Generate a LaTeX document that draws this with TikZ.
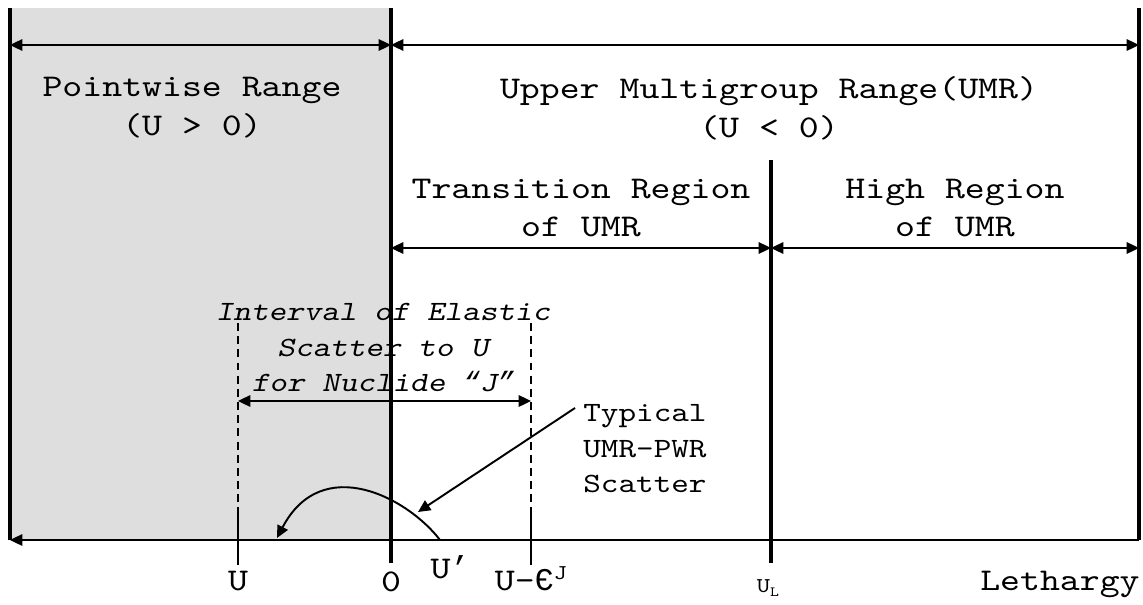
\documentclass[tikz,border=0pt]{standalone}
\usepackage{fontspec}
\setmainfont{lmmono10-regular.otf}[ItalicFont=lmmonoslant10-regular.otf, FakeStretch=1.2]
\newfontfamily\epsfont{Liberation Mono}
\usetikzlibrary{arrows.meta}
\definecolor{pwgray}{HTML}{DEDEDE}
\tikzset{
  bigtxt/.style={font=\fontsize{18}{22.1}\selectfont, align=center, inner sep=0pt},
  smtxt/.style={font=\fontsize{15.9}{20.2}\selectfont, inner sep=0pt},
  ittxt/.style={font=\fontsize{15.9}{20.2}\selectfont\itshape, align=center, inner sep=0pt},
  wall/.style={line width=2.6pt},
  dimarr/.style={{Triangle[length=7pt,width=6.5pt]}-{Triangle[length=7pt,width=6.5pt]},
                 line width=1.1pt},
  ptr/.style={-{Triangle[length=7pt,width=6.5pt]}, line width=1.1pt},
  guide/.style={dash pattern=on 4.5pt off 3pt, line width=0.8pt},
}
\begin{document}
\begin{tikzpicture}[x=0.02cm, y=-0.02cm]
  \useasboundingbox (0,0) rectangle (1143,605);
  \fill[white] (0,0) rectangle (1143,605);
  % ends of the walls
  \coordinate (lTop) at (10,8);    \coordinate (lBot) at (10,540);
  \coordinate (zTop) at (391,8);   \coordinate (zAx)  at (391,540);
  \coordinate (zBot) at (391,563);
  \coordinate (uTop) at (771,160); \coordinate (uBot) at (771,563);
  \coordinate (rTop) at (1139,8);  \coordinate (rBot) at (1139,540);
  % pointwise range shading
  \fill[pwgray] (lTop) rectangle (zAx);

  % range labels
  \node[bigtxt] (pw) at (192,108) {Pointwise Range\\(U > 0)};
  \node[bigtxt] (umr) at (769,108) {Upper Multigroup Range(UMR)\\(U < 0)};
  \node[bigtxt] (trans) at (581,208) {Transition Region\\of UMR};
  \node[bigtxt] (high) at (955,208) {High Region\\of UMR};
  \node[ittxt] (intv) at (383,348)
    {Interval of Elastic\\Scatter to U\\for Nuclide {\epsfont\itshape “}J{\epsfont\itshape ”}};
  \node[smtxt, align=left, anchor=west] (typ) at (583,449) {Typical\\UMR-PWR\\Scatter};

  % axis labels
  \node[bigtxt, anchor=base] (lU) at (238,590) {U};
  \node[bigtxt, anchor=base] (l0) at (391,591) {0};
  \node[bigtxt, anchor=base] (lUp) at (450,578) {U{\epsfont ’}};
  \node[bigtxt, anchor=base] (lUe) at (531,590)
    {U-{\epsfont Є}\raisebox{0.75ex}{\fontsize{12}{12}\selectfont J}};
  \node[inner sep=0pt, anchor=base] (lUL) at (768,592)
    {\fontsize{12}{12}\selectfont U\raisebox{-0.45ex}{\fontsize{8}{8}\selectfont L}};
  \node[bigtxt, anchor=base east] (leth) at (1140,590) {Lethargy};

  % walls
  \draw[wall] (lTop) -- (lBot);
  \draw[wall] (zTop) -- (zBot);
  \draw[wall] (uTop) -- (uBot);
  \draw[line width=2pt] (rTop) -- (rBot);

  % range arrows
  \coordinate (top) at (0,45);
  \coordinate (mid) at (0,248);
  \draw[dimarr] (lTop |- top) -- (zTop |- top);
  \draw[dimarr] (zTop |- top) -- (rTop |- top);
  \draw[dimarr] (zTop |- mid) -- (uTop |- mid);
  \draw[dimarr] (uTop |- mid) -- (rTop |- mid);

  % lethargy axis
  \draw[ptr] (rBot) -- (lBot);

  % elastic scatter interval
  \coordinate (gU) at (238,323);   \coordinate (gE) at (531,323);
  \coordinate (intvY) at (0,401);
  \draw[guide] (gU) -- (gU |- lBot);
  \draw[guide] (gE) -- (gE |- lBot);
  \draw[line width=1.1pt] (238,515) -- (238,565);
  \draw[line width=1.1pt] (531,515) -- (531,565);
  \draw[dimarr] (gU |- intvY) -- (gE |- intvY);

  % typical scatter
  \coordinate (sFrom) at (440,540);
  \coordinate (sTo) at (277,538);
  \draw[ptr] (sFrom) .. controls (408,498) and (322,452) .. (sTo);
  \coordinate (ptrFrom) at (575,408);
  \coordinate (ptrTo) at (418,512);
  \draw[ptr] (ptrFrom) -- (ptrTo);
\end{tikzpicture}
\end{document}
